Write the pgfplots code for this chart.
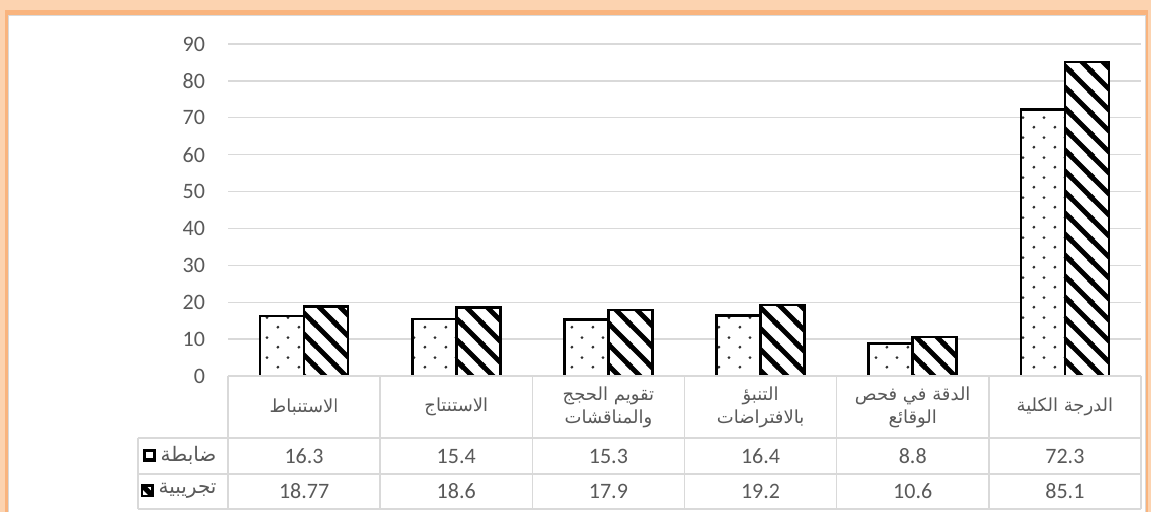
\documentclass[border=0pt]{standalone}
\usepackage{pgfplots}
\pgfplotsset{compat=1.18}
\usepackage{pgfplotstable}
\usepackage{fontspec}
\setmainfont{Carlito}
\newfontfamily\arabicfont[Script=Arabic]{DejaVu Sans}
\TeXXeTstate=1
\usetikzlibrary{patterns}

\definecolor{txtgray}{HTML}{595959}
\definecolor{gridgray}{HTML}{D9D9D9}
\definecolor{frameorange}{HTML}{FCD3B0}
\definecolor{framedeep}{HTML}{F9B47E}
\definecolor{dotgray}{HTML}{303030}

\pgfdeclarepatternformonly{sparsedots}{\pgfqpoint{0pt}{0pt}}{\pgfqpoint{10.5pt}{10pt}}{\pgfqpoint{10.5pt}{10pt}}{%
  \pgfpathcircle{\pgfqpoint{2.6pt}{2.5pt}}{0.8pt}%
  \pgfpathcircle{\pgfqpoint{7.85pt}{7.5pt}}{0.8pt}%
  \pgfusepath{fill}}

\pgfdeclarepatternformonly{bigstripes}{\pgfqpoint{0pt}{0pt}}{\pgfqpoint{10.5pt}{10.5pt}}{\pgfqpoint{10.5pt}{10.5pt}}{%
  \pgfsetlinewidth{2.5pt}%
  \pgfpathmoveto{\pgfqpoint{-1pt}{11.5pt}}\pgfpathlineto{\pgfqpoint{11.5pt}{-1pt}}%
  \pgfpathmoveto{\pgfqpoint{-2pt}{2pt}}\pgfpathlineto{\pgfqpoint{2pt}{-2pt}}%
  \pgfpathmoveto{\pgfqpoint{8.5pt}{12.5pt}}\pgfpathlineto{\pgfqpoint{12.5pt}{8.5pt}}%
  \pgfusepath{stroke}}

\pgfplotstableread{
x ctrl exp
0 16.3 18.77
1 15.4 18.6
2 15.3 17.9
3 16.4 19.2
4 8.8 10.6
5 72.3 85.1
}\data

\newcommand{\ar}{\arabicfont\fontsize{9}{11.5}\selectfont}
\newcommand{\arl}{\arabicfont\fontsize{10}{12}\selectfont}
\newcommand{\num}{\fontsize{11}{13}\selectfont}

\begin{document}
\begin{tikzpicture}
\fill[frameorange] (0,0) rectangle (575.5pt,-256pt);
\fill[framedeep] (2.5pt,-5pt) rectangle (574pt,-256pt);
\fill[white, draw=gridgray, line width=0.5pt] (4pt,-8pt) rectangle (572.5pt,-257pt);
\begin{axis}[
  at={(114pt,-188pt)}, anchor=south west,
  width=456.5pt, height=166pt, scale only axis,
  xmin=-0.5, xmax=5.5, ymin=0, ymax=90,
  ytick={0,10,...,90}, xtick=\empty,
  ymajorgrids, grid style={draw=gridgray, line width=0.7pt},
  axis line style={draw=none},
  major tick length=0pt,
  yticklabel style={font=\num, text=txtgray, xshift=-8pt},
  /pgf/number format/assume math mode=true,
  clip=false,
]
\addplot[ybar, bar width=22pt, bar shift=-11pt, draw=black, line width=1.3pt,
  fill=white, postaction={pattern=sparsedots, pattern color=dotgray}]
  table[x=x, y=ctrl]{\data};
\addplot[ybar, bar width=22pt, bar shift=11pt, draw=black, line width=1.3pt,
  fill=white, postaction={pattern=bigstripes, pattern color=black}]
  table[x=x, y=exp]{\data};

% data table rows
\addplot[draw=none, mark=none, nodes near coords, point meta=explicit,
  every node near coord/.style={anchor=center, font=\num, text=txtgray}]
  table[x=x, y expr=-21.7, meta=ctrl]{\data};
\addplot[draw=none, mark=none, nodes near coords, point meta=explicit,
  every node near coord/.style={anchor=center, font=\num, text=txtgray}]
  table[x=x, y expr=-31.2, meta=exp]{\data};

% table lines
\draw[gridgray, line width=0.8pt] (axis cs:-0.5,0) -- (axis cs:5.5,0);
\pgfplotsinvokeforeach{-0.5,0.5,1.5,2.5,3.5,4.5,5.5}{
  \draw[gridgray, line width=0.8pt] (axis cs:#1,0) -- (axis cs:#1,-36.05);
}
\draw[gridgray, line width=0.8pt] (axis cs:-1.0915,-16.81) -- (axis cs:5.5,-16.81);
\draw[gridgray, line width=0.8pt] (axis cs:-1.0915,-26.5) -- (axis cs:5.5,-26.5);
\draw[gridgray, line width=0.8pt] (axis cs:-1.0915,-36.05) -- (axis cs:5.5,-36.05);
\draw[gridgray, line width=0.8pt] (axis cs:-1.0915,-16.81) -- (axis cs:-1.0915,-36.05);

% headers
\node[font=\ar, text=txtgray, align=center] at (axis cs:0,-8.5) {\beginR الاستنباط\endR};
\node[font=\ar, text=txtgray, align=center] at (axis cs:1,-8.5) {\beginR الاستنتاج\endR};
\node[font=\ar, text=txtgray, align=center] at (axis cs:2,-8.5) {\beginR تقويم الحجج\endR\\\beginR والمناقشات\endR};
\node[font=\ar, text=txtgray, align=center] at (axis cs:3,-8.5) {\beginR التنبؤ\endR\\\beginR بالافتراضات\endR};
\node[font=\ar, text=txtgray, align=center] at (axis cs:4,-8.5) {\beginR الدقة في فحص\endR\\\beginR الوقائع\endR};
\node[font=\ar, text=txtgray, align=center] at (axis cs:5,-8.5) {\beginR الدرجة الكلية\endR};

% row labels and keys
\node[font=\arl, text=txtgray, anchor=east, inner sep=1pt] (lab1) at (axis cs:-0.56,-21.6) {\beginR ضابطة\endR};
\node[font=\arl, text=txtgray, anchor=east, inner sep=1pt] (lab2) at (axis cs:-0.56,-31.1) {\beginR تجريبية\endR};
\draw[black, line width=1.3pt, fill=white] ([xshift=-7pt, yshift=-2.6pt]lab1.west) rectangle ([xshift=-1.8pt, yshift=2.6pt]lab1.west);
\fill[black] ([xshift=-7pt, yshift=-2.6pt]lab1.west) rectangle ([xshift=-1.8pt, yshift=-1.2pt]lab1.west);
\draw[black, line width=1.3pt, fill=white] ([xshift=-7pt, yshift=-2.6pt]lab2.west) rectangle ([xshift=-1.8pt, yshift=2.6pt]lab2.west);
\fill[black] ([xshift=-7pt, yshift=2.6pt]lab2.west) -- ([xshift=-5.2pt, yshift=2.6pt]lab2.west) -- ([xshift=-1.8pt, yshift=-0.8pt]lab2.west) -- ([xshift=-1.8pt, yshift=-2.6pt]lab2.west) -- ([xshift=-3.6pt, yshift=-2.6pt]lab2.west) -- ([xshift=-7pt, yshift=0.8pt]lab2.west) -- cycle;
\end{axis}
\pgfresetboundingbox
\useasboundingbox (0,0) rectangle (575.5pt,-256pt);
\end{tikzpicture}
\end{document}
